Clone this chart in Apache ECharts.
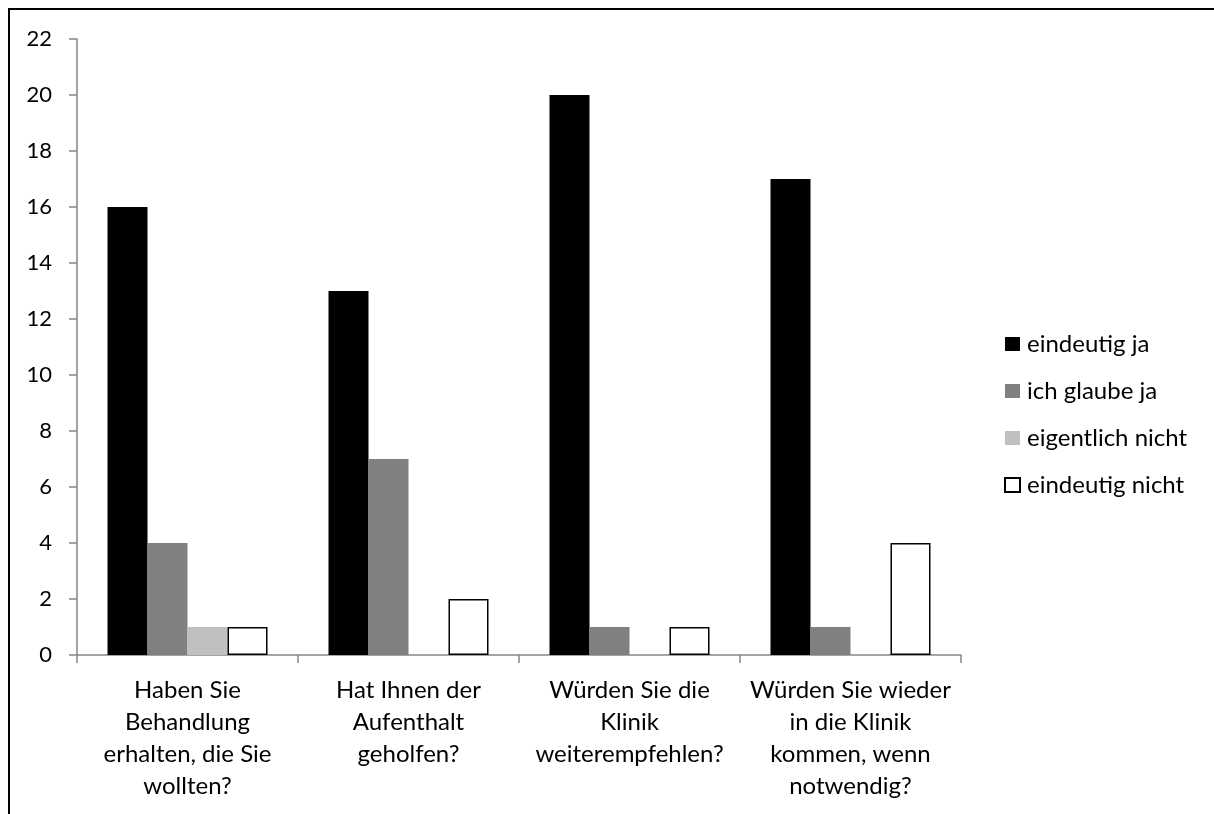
<!DOCTYPE html>
<html>
<head>
<meta charset="utf-8">
<script src="https://cdn.jsdelivr.net/npm/echarts@6/dist/echarts.min.js"></script>
<style>
html, body { margin: 0; padding: 0; background: #fff; }
#chart { width: 1214px; height: 814px; }
</style>
</head>
<body>
<div id="chart"></div>
<script>
// Fragen (x-Achse)
var categories = [
	'Haben Sie\nBehandlung\nerhalten, die Sie\nwollten?',
	'Hat Ihnen der\nAufenthalt\ngeholfen?',
	'Würden Sie die\nKlinik\nweiterempfehlen?',
	'Würden Sie wieder\nin die Klinik\nkommen, wenn\nnotwendig?'
];
var seriesNames = ['eindeutig ja', 'ich glaube ja', 'eigentlich nicht', 'eindeutig nicht'];
var eindeutigJa = [16, 13, 20, 17];
var ichGlaubeJa = [4, 7, 1, 1];
var eigentlichNicht = [1, 0, 0, 0];
var eindeutigNicht = [1, 2, 1, 4];
var yTicks = { min: 0, max: 22, interval: 2 };

var font = 'Lato, "Open Sans", sans-serif';
var axisGray = '#868686';

var chart = echarts.init(document.getElementById('chart'));
chart.setOption({
	animation: false,
	backgroundColor: '#fff',
	textStyle: { fontFamily: font },
	grid: {
		left: 77,
		right: 253,
		top: 39,
		bottom: 159
	},
	legend: {
		orient: 'vertical',
		left: 1004,
		top: 332,
		padding: 0,
		itemWidth: 15,
		itemHeight: 14,
		itemGap: 23,
		icon: 'rect',
		textStyle: { fontSize: 24, lineHeight: 24, color: '#000', fontFamily: font, padding: [0, 0, 0, 2] },
		data: seriesNames
	},
	xAxis: {
		type: 'category',
		data: categories,
		axisLine: { lineStyle: { color: axisGray, width: 1.5 } },
		axisTick: { show: true, length: 8, lineStyle: { color: axisGray, width: 1.5 } },
		axisLabel: {
			interval: 0,
			margin: 19,
			color: '#000',
			fontSize: 24,
			lineHeight: 32,
			align: 'center'
		},
		splitLine: { show: false }
	},
	yAxis: {
		type: 'value',
		min: yTicks.min,
		max: yTicks.max,
		interval: yTicks.interval,
		axisLine: { show: true, lineStyle: { color: axisGray, width: 1.5 } },
		axisTick: { show: true, length: 8, lineStyle: { color: axisGray, width: 1.5 } },
		axisLabel: { margin: 25, color: '#000', fontSize: 22 },
		splitLine: { show: false }
	},
	series: [
		{
			name: seriesNames[0],
			type: 'bar',
			data: eindeutigJa,
			barGap: '0%',
			barCategoryGap: '27.6%',
			itemStyle: { color: '#000' }
		},
		{
			name: seriesNames[1],
			type: 'bar',
			data: ichGlaubeJa,
			itemStyle: { color: '#808080' }
		},
		{
			name: seriesNames[2],
			type: 'bar',
			data: eigentlichNicht,
			itemStyle: { color: '#c0c0c0' }
		},
		{
			name: seriesNames[3],
			type: 'bar',
			data: eindeutigNicht,
			itemStyle: { color: '#fff', borderColor: '#000', borderWidth: 1.5 }
		}
	],
	graphic: [
		{
			type: 'polyline',
			shape: { points: [[9, 814], [9, 9], [1214, 9]] },
			style: { stroke: '#000', lineWidth: 2, fill: null }
		}
	]
});
</script>
</body>
</html>
